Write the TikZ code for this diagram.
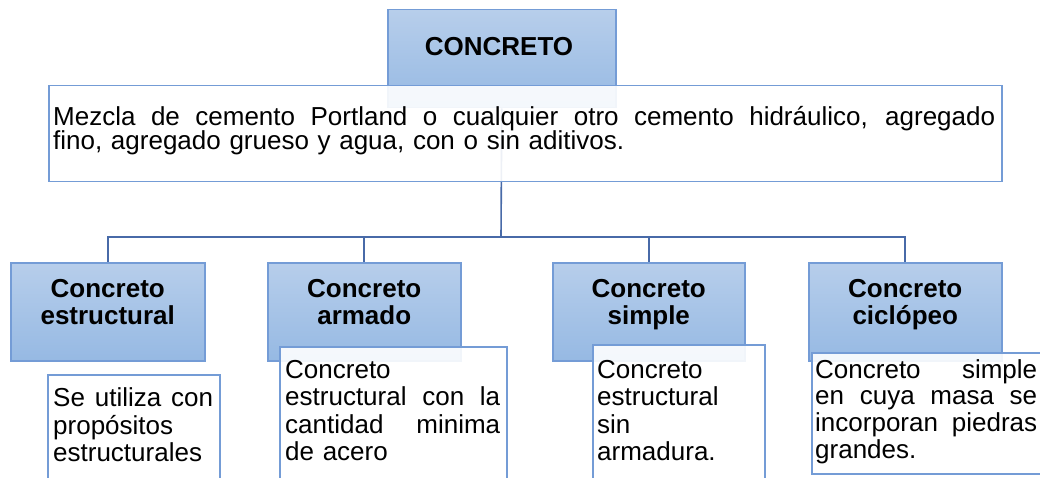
\documentclass[tikz,border=0pt]{standalone}
\usepackage{fontspec}
\setmainfont{Liberation Sans}
\usetikzlibrary{positioning}
\definecolor{boxline}{RGB}{116,156,214}
\definecolor{boxtop}{RGB}{183,206,235}
\definecolor{boxbottom}{RGB}{150,185,227}
\definecolor{linkline}{RGB}{72,106,168}
\newcommand{\jline}[1]{\leavevmode\hbox to \hsize{\spaceskip=0.3em plus 10em\relax #1}}
\tikzset{%
  capbox/.style={draw=boxline, line width=1.5pt, top color=boxtop, bottom color=boxbottom, inner sep=0pt},
  notebox/.style={draw=boxline, line width=1.5pt, fill=white, fill opacity=0.9, inner sep=0pt},
  link/.style={draw=linkline, line width=1.6pt},
  titletext/.style={font=\fontsize{26}{27}\selectfont\bfseries, align=center, inner sep=0pt},
  bodytext/.style={font=\fontsize{26}{27.5}\selectfont, align=left, inner sep=0pt}
}

\begin{document}
\begin{tikzpicture}[x=1pt, y=-1pt]
  \useasboundingbox (0,0) rectangle (1040,478);
  \clip (0,0) rectangle (1040,478);
  \node[capbox, anchor=north west, minimum width=228pt, minimum height=98pt] (cap) at (387,9) {};
  \node[capbox, anchor=north west, minimum width=194pt, minimum height=98pt] (t1) at (10,262) {};
  \node[capbox, minimum width=193pt, minimum height=98pt, right=61.5pt] (t2) at (t1.east) {};
  \node[capbox, minimum width=192pt, minimum height=98pt, right=90.5pt] (t3) at (t2.east) {};
  \node[capbox, minimum width=193pt, minimum height=98pt, right=62.5pt] (t4) at (t3.east) {};
  \coordinate (hub) at (501,237);
  \draw [link] (cap.south) -- (hub);
  \foreach \t in {t1,t2,t3,t4}
    \draw [link] (hub) -| (\t.north);
  \node[notebox, anchor=north west, minimum width=953pt, minimum height=96pt] (def) at (48,85) {};
  \node[notebox, anchor=north west, minimum width=172pt, minimum height=130pt] (n1) at (47,374) {};
  \node[notebox, anchor=north west, minimum width=227pt, minimum height=150pt] (n2) at (279,346) {};
  \node[notebox, anchor=north west, minimum width=172pt, minimum height=150pt] (n3) at (592,344) {};
  \node[notebox, anchor=north west, minimum width=232pt, minimum height=121pt] (n4) at (811,352) {};
  \node[titletext] (captext) at (499,47) {CONCRETO};
  \node[bodytext, font=\fontsize{26}{24.3}\selectfont, text width=942pt, anchor=base west] (deftext) at (53,125.7)
    {\jline{Mezcla de cemento Portland o cualquier otro cemento hidráulico, agregado}\\fino, agregado grueso y agua, con o sin aditivos.};
  \coordinate (titlerow) at (0,297);
  \node[titletext, text width=193pt, anchor=base] (t1text) at (t1 |- titlerow) {Concreto\\estructural};
  \node[titletext, text width=193pt, anchor=base] (t2text) at (t2 |- titlerow) {Concreto\\armado};
  \node[titletext, text width=193pt, anchor=base] (t3text) at (t3 |- titlerow) {Concreto\\simple};
  \node[titletext, text width=193pt, anchor=base] (t4text) at (t4 |- titlerow) {Concreto\\ciclópeo};
  \node[bodytext, text width=160pt, anchor=base west] (n1text) at (53,406.7)
    {\jline{Se utiliza con}\\propósitos\\estructurales};
  \node[bodytext, text width=215pt, anchor=base west] (n2text) at (285,378)
    {Concreto\\\jline{estructural con la}\\\jline{cantidad minima}\\de acero};
  \node[bodytext, text width=162pt, anchor=base west] (n3text) at (597,378)
    {Concreto\\estructural\\sin\\armadura.};
  \node[bodytext, font=\fontsize{26}{26.7}\selectfont, text width=222pt, anchor=base west] (n4text) at (815,378)
    {\jline{Concreto simple}\\\jline{en cuya masa se}\\\jline{incorporan piedras}\\grandes.};
\end{tikzpicture}
\end{document}
